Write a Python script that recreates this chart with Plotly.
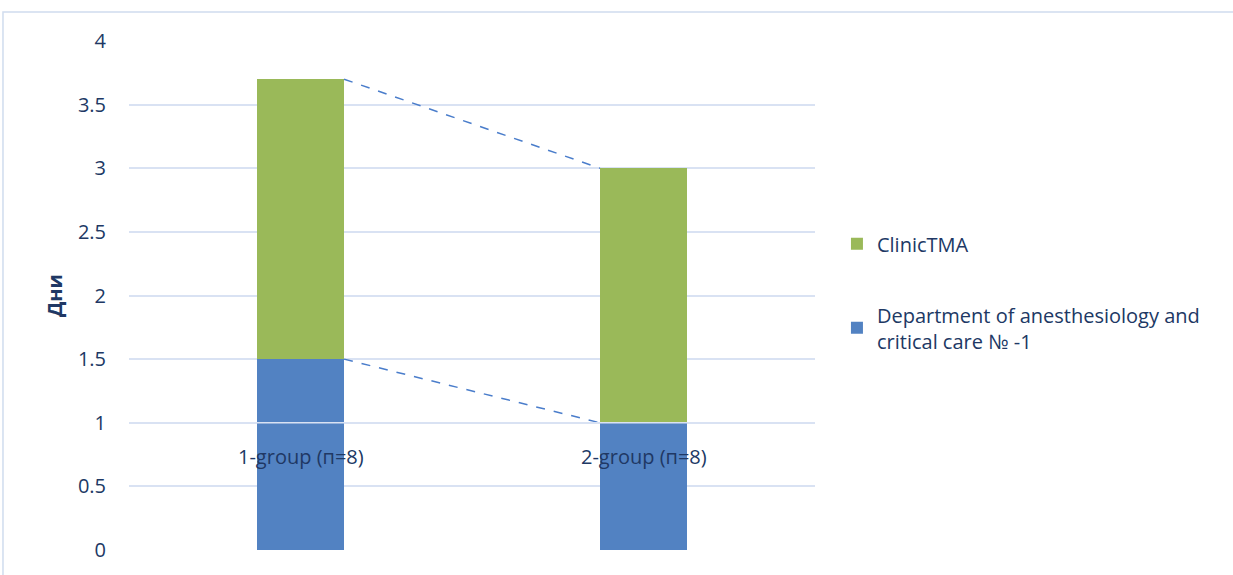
import plotly.graph_objects as go

categories = ["1-group (п=8)", "2-group (п=8)"]
dept_values = [1.5, 1.0]
clinic_values = [2.2, 2.0]
series_names = ["Department of anesthesiology and<br>critical care № -1", "ClinicTMA"]
y_ticks = [0, 0.5, 1, 1.5, 2, 2.5, 3, 3.5, 4]
y_tick_text = ["0", "0.5", "1", "1.5", "2", "2.5", "3", "3.5", "4"]

TXT = "#203864"
GRID = "#D9E2F3"
BLUE = "#5282C2"
GREEN = "#9AB959"
FONT = "Open Sans"
FS = 20
bar_w = 0.254

xs = list(range(len(categories)))
totals = [d + c for d, c in zip(dept_values, clinic_values)]

fig = go.Figure()
fig.add_trace(go.Bar(x=xs, y=dept_values, width=bar_w, name=series_names[0],
                     legendgroup="dept", legendrank=2,
                     marker=dict(color=BLUE, line=dict(width=0))))
fig.add_trace(go.Bar(x=xs, y=clinic_values, width=bar_w, name=series_names[1],
                     legendgroup="clinic", legendrank=1,
                     marker=dict(color=GREEN, line=dict(width=0))))

# series lines (dashed) between adjacent stacks
for tops in (dept_values, totals):
    for i in range(len(xs) - 1):
        fig.add_trace(go.Scatter(
            x=[xs[i] + bar_w / 2, xs[i + 1] - bar_w / 2], y=[tops[i], tops[i + 1]],
            mode="lines", line=dict(color="#4A7DCB", width=1.5, dash="dash"),
            showlegend=False, hoverinfo="skip"))

# category labels at the crossing axis (y = 1)
for x, lab in zip(xs, categories):
    fig.add_annotation(x=x, y=1, xref="x", yref="y", text=lab, showarrow=False,
                       yanchor="top", yshift=-18, font=dict(family=FONT, size=FS, color=TXT))

# horizontal axis line at y=1 drawn over bars
fig.add_shape(type="line", xref="paper", yref="y", x0=0, x1=1, y0=1, y1=1,
              line=dict(color=GRID, width=1.5), layer="above")

# chart border (top and left visible)
fig.add_shape(type="rect", xref="paper", yref="paper",
              x0=-0.1837, x1=1.8, y0=-0.2, y1=1.0568,
              line=dict(color="#D0DCEE", width=1.5), layer="below")

fig.update_layout(
    width=1233, height=575,
    margin=dict(l=129, r=418, t=41, b=22),
    barmode="stack",
    plot_bgcolor="white", paper_bgcolor="white",
    font=dict(family=FONT, color=TXT, size=FS),
    xaxis=dict(range=[-0.5, 1.5], showticklabels=False, showgrid=False,
               zeroline=False, showline=False, fixedrange=True),
    yaxis=dict(range=[0, 4], tickvals=y_ticks, ticktext=y_tick_text,
               showgrid=True, gridcolor=GRID, gridwidth=1.5, zeroline=False,
               ticks="", ticklabelstandoff=22,
               tickfont=dict(family=FONT, size=FS, color=TXT),
               title=dict(text="<b>Дни</b>", font=dict(family=FONT, size=20, color=TXT),
                          standoff=9)),
    legend=dict(x=1.032, y=0.64, xanchor="left", yanchor="top",
                traceorder="grouped", tracegroupgap=42,
                font=dict(family=FONT, size=FS, color=TXT),
                itemwidth=30, bgcolor="rgba(0,0,0,0)"),
    showlegend=True,
)

fig.write_html("out.html")
